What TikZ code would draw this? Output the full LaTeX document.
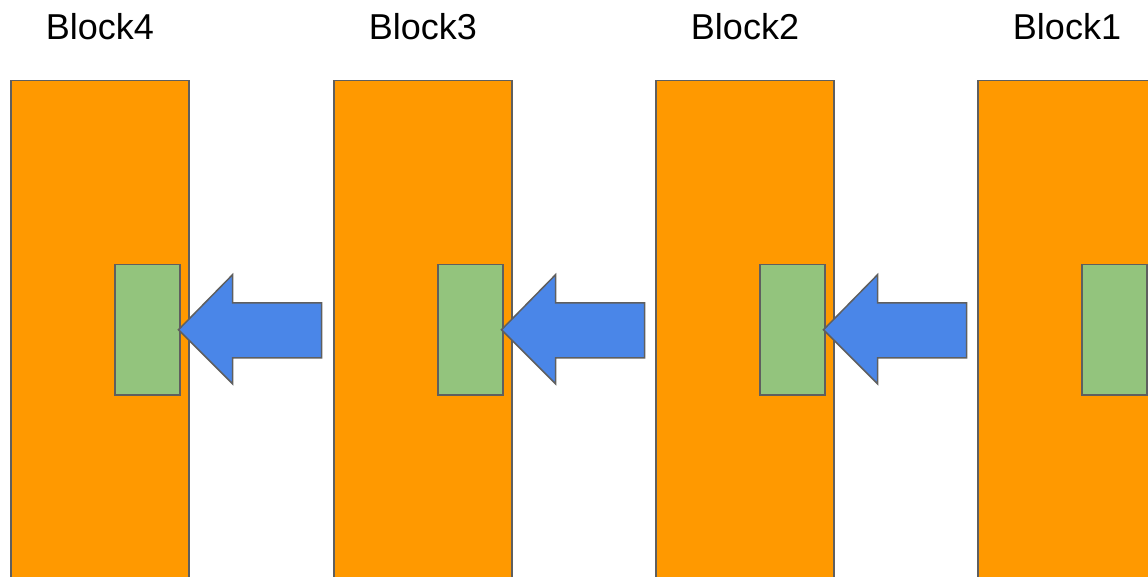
\documentclass[tikz,border=0pt]{standalone}
\usepackage{fontspec}
\setmainfont{Liberation Sans}
\usetikzlibrary{calc}
\definecolor{BlockColor}{RGB}{255,153,0}
\definecolor{InnerColor}{RGB}{147,196,125}
\definecolor{ArrowColor}{RGB}{74,134,232}
\definecolor{EdgeColor}{RGB}{95,95,95}
\tikzset{
	block/.style={draw=EdgeColor,fill=BlockColor,line width=1.5pt,inner sep=0pt,minimum width=178pt,minimum height=520pt,anchor=north west},
	inner/.style={draw=EdgeColor,fill=InnerColor,line width=1.5pt,inner sep=0pt,minimum width=65pt,minimum height=130pt,anchor=north west},
	blockarrow/.style={draw=EdgeColor,fill=ArrowColor,line width=1.5pt,line join=miter},
	title/.style={inner sep=0pt,font=\fontsize{36}{40}\selectfont}
}

\begin{document}
\begin{tikzpicture}[x=1pt,y=-1pt]
		% border
		\useasboundingbox (0,0) rectangle (1148,577);
		\clip (0,0) rectangle (1148,577);
		% blocks with their inner parts and titles
		\foreach \i/\x in {4/10,3/333,2/655,1/977} {
			\node[block] (b\i) at (\x,80) {};
			\node[inner] (g\i) at (\x+104,264) {};
			\node[title] (t\i) at (\x+90,27) {Block\i};
		}
		% arrows from one block to the next
		\foreach \i/\j in {1/2,2/3,3/4} {
			\draw[blockarrow] ([xshift=-2pt]g\j.east) -- ++(54,-55) -- ++(0,28) -- ++(89,0) -- ++(0,55) -- ++(-89,0) -- ++(0,26) -- cycle;
		}
	\end{tikzpicture}
\end{document}
